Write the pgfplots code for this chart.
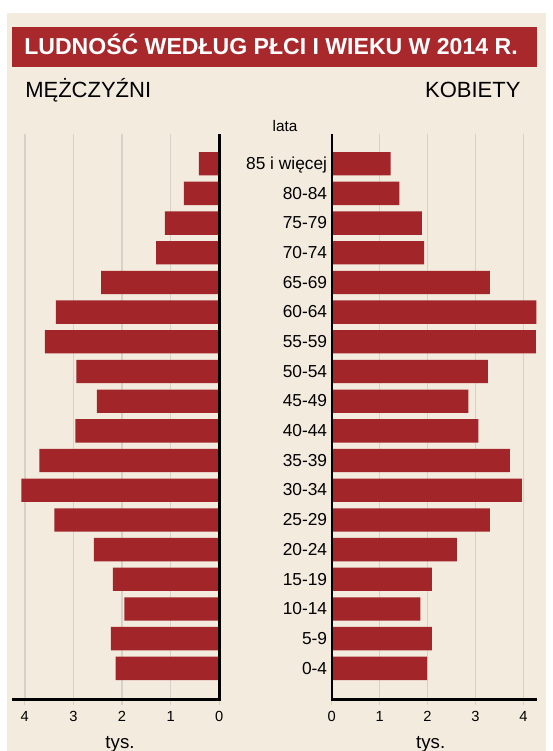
\documentclass[border=0pt]{standalone}
\usepackage{pgfplots}
\usepackage{pgfplotstable}
\pgfplotsset{compat=1.18}
\usepackage{fontspec}
\setmainfont{Liberation Sans}

\definecolor{bg}{RGB}{243,235,222}
\definecolor{barred}{RGB}{162,38,41}
\definecolor{banner}{RGB}{168,40,43}
\definecolor{gridc}{RGB}{214,209,201}

% population in thousands, by 5-year age group (0 = 0-4 ... 17 = 85+)
\pgfplotstableread{
idx men   women
0   2.13  1.99
1   2.23  2.09
2   1.95  1.85
3   2.19  2.09
4   2.58  2.61
5   3.39  3.30
6   4.07  3.97
7   3.70  3.72
8   2.96  3.06
9   2.52  2.85
10  2.94  3.26
11  3.59  4.26
12  3.36  4.27
13  2.43  3.30
14  1.30  1.93
15  1.12  1.88
16  0.73  1.41
17  0.42  1.23
}\pop

\pgfplotsset{
  pyramid/.style={
    scale only axis,
    height=424.1pt,
    ymin=-1.05, ymax=18,
    axis line style={draw=none},
    xtick={0,1,2,3,4},
    xtick pos=left,
    xmajorgrids,
    grid style={color=gridc, line width=1.2pt},
    tick align=outside,
    major tick length=3.75pt,
    x tick style={color=gridc, line width=1pt},
    y tick style={draw=none},
    xticklabel style={font=\fontsize{11}{13}\selectfont, yshift=-1.6pt},
    /pgf/number format/assume math mode=true,
    clip=false,
  },
}

\begin{document}
\begin{tikzpicture}
\useasboundingbox (0,0) rectangle (414.75pt,-563.25pt);
\fill[white] (0,0) rectangle (414.75pt,-563.25pt);
\fill[bg] (5.25pt,-9.75pt) rectangle (409.5pt,-563.25pt);

% title banner
\fill[banner] (9.225pt,-20.025pt) rectangle (402.525pt,-49.875pt);
\node[anchor=base, inner sep=0pt, text=white, font=\fontsize{17.3}{20}\selectfont\bfseries]
  at (203.25pt,-40.5pt) {LUDNOŚĆ WEDŁUG PŁCI I WIEKU W 2014 R.};

\node[anchor=base west, inner sep=0pt, font=\fontsize{16.5}{19}\selectfont]
  at (18.75pt,-72.75pt) {MĘŻCZYŹNI};
\node[anchor=base east, inner sep=0pt, font=\fontsize{16.5}{19}\selectfont]
  at (390.525pt,-72.75pt) {KOBIETY};
\node[anchor=base, inner sep=0pt, font=\fontsize{11.5}{14}\selectfont]
  at (213.75pt,-98.775pt) {lata};

% men (left, reversed)
\begin{axis}[pyramid,
  at={(8.775pt,-524.625pt)}, anchor=south west,
  width=155.7pt,
  x dir=reverse,
  xmin=0, xmax=4.27,
  ytick=\empty,
]
\addplot[xbar, fill=barred, draw=none, bar width=17.5pt] table[x=men, y=idx] {\pop};
\draw[line width=1.8pt, line join=miter] (axis cs:0,18) -- (axis cs:0,-1.05) -- (axis cs:4.27,-1.05);
\end{axis}

% women (right)
\begin{axis}[pyramid,
  at={(248.775pt,-524.625pt)}, anchor=south west,
  width=154.2pt,
  xmin=0, xmax=4.29,
  ytick={0,...,17},
  yticklabels={0-4,5-9,10-14,15-19,20-24,25-29,30-34,35-39,40-44,45-49,50-54,55-59,60-64,65-69,70-74,75-79,80-84,85 i więcej},
  yticklabel style={font=\fontsize{13}{15}\selectfont, anchor=base east, inner sep=0pt, yshift=-4.3pt, xshift=0.5pt},
]
\addplot[xbar, fill=barred, draw=none, bar width=17.5pt] table[x=women, y=idx] {\pop};
\draw[line width=1.8pt, line join=miter] (axis cs:0,18) -- (axis cs:0,-1.05) -- (axis cs:4.29,-1.05);
\end{axis}

\node[anchor=base, inner sep=0pt, font=\fontsize{14}{16}\selectfont] at (90pt,-561.5pt) {tys.};
\node[anchor=base, inner sep=0pt, font=\fontsize{14}{16}\selectfont] at (323pt,-561.5pt) {tys.};
\end{tikzpicture}
\end{document}
